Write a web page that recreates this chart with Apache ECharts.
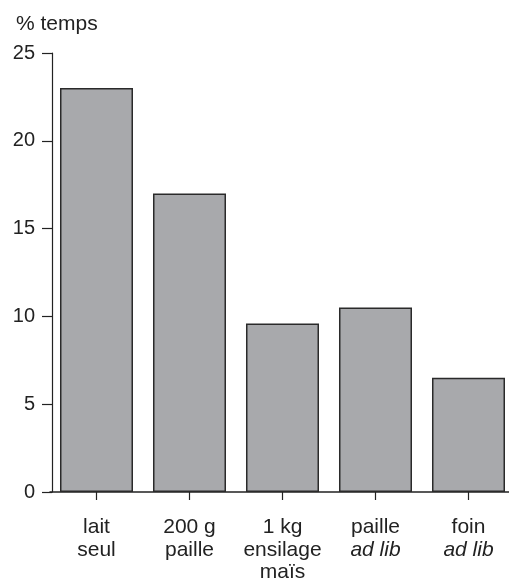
<!DOCTYPE html>
<html><head><meta charset="utf-8">
<script src="https://cdn.jsdelivr.net/npm/echarts@6/dist/echarts.min.js"></script>
<style>html,body{margin:0;padding:0;background:#fff;overflow:hidden;width:509px;height:579px}#c{width:516px;height:579px}</style>
</head><body><div id="c"></div>
<script>
const categories = ['lait\nseul', '200 g\npaille', '1 kg\nensilage\nmaïs', 'paille\n{i|ad lib}', 'foin\n{i|ad lib}'];
const values = [23, 17, 9.6, 10.5, 6.5];
const yTicks = [0, 5, 10, 15, 20, 25];
const yTitle = '% temps';

const font = '"Liberation Sans", Arial, Helvetica, sans-serif';
const chart = echarts.init(document.getElementById('c'), null, {renderer: 'canvas', width: 516, height: 579});
chart.setOption({
  animation: false,
  backgroundColor: '#fff',
  textStyle: {fontFamily: font},
  title: {
    text: yTitle, left: 11, top: 9,
    textStyle: {fontFamily: font, fontSize: 21, fontWeight: 'normal', color: '#222'}
  },
  grid: {left: 50, right: 1, top: 53, bottom: 87, containLabel: false, outerBoundsMode: 'none'},
  xAxis: {
    type: 'category',
    data: categories,
    axisLine: {lineStyle: {color: '#222', width: 1.5}},
    axisTick: {show: true, alignWithLabel: true, length: 8, lineStyle: {color: '#222', width: 1.2}},
    axisLabel: {
      margin: 24, color: '#222', fontSize: 21, lineHeight: 22.5, fontFamily: font,
      interval: 0,
      rich: {i: {fontStyle: 'italic', fontSize: 21, lineHeight: 22.5, color: '#222', fontFamily: font}}
    }
  },
  yAxis: {
    type: 'value', min: yTicks[0], max: yTicks[yTicks.length - 1], interval: 5,
    offset: -2,
    splitLine: {show: false},
    axisLine: {show: true, lineStyle: {color: '#222', width: 1.2}},
    axisTick: {show: true, length: 10, lineStyle: {color: '#222', width: 1.2}},
    axisLabel: {margin: 17, color: '#222', fontSize: 20, fontFamily: font}
  },
  series: [{
    type: 'bar',
    data: values,
    barCategoryGap: '21.5%',
    itemStyle: {color: '#a8a9ac', borderColor: '#2a2a2a', borderWidth: 1.5}
  }]
});
</script></body></html>
